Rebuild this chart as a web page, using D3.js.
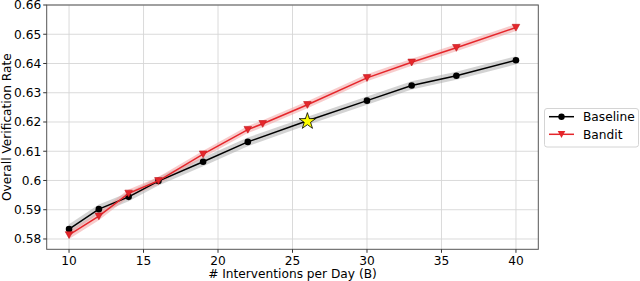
<!DOCTYPE html>
<meta charset="utf-8">
<script src="https://d3js.org/d3.v7.min.js"></script>
<div id="chart"></div>
<style>
	body { margin: 0; padding: 0; background: #fff; overflow: hidden; }
	text { font-family: "DejaVu Sans", sans-serif; fill: #000; }
</style>
<script>
	// values
	const baselineX = [10, 12, 14, 16, 19, 22, 26, 30, 33, 36, 40];
	const baselineY = [0.5834, 0.5902, 0.5944, 0.5998, 0.6064, 0.6132, 0.6204, 0.6273, 0.6325, 0.6358, 0.6411];
	const baselineErr = [0.0016, 0.0016, 0.0015, 0.0015, 0.0015, 0.0015, 0.0014, 0.0014, 0.0014, 0.0014, 0.0014];

	const banditX = [10, 12, 14, 16, 19, 22, 23, 26, 30, 33, 36, 40];
	const banditY = [0.5814, 0.5878, 0.5956, 0.5999, 0.6090, 0.6174, 0.6194, 0.6259, 0.6351, 0.6404, 0.6454, 0.6523];
	const banditErr = [0.0014, 0.0014, 0.0013, 0.0013, 0.0012, 0.0012, 0.0012, 0.0012, 0.0012, 0.0012, 0.0012, 0.0012];

	const starX = [26];
	const starY = [0.6204];

	const xTicks = [10, 15, 20, 25, 30, 35, 40];
	const yTicks = [0.58, 0.59, 0.6, 0.61, 0.62, 0.63, 0.64, 0.65, 0.66];
	const yTickLabels = ["0.58", "0.59", "0.6", "0.61", "0.62", "0.63", "0.64", "0.65", "0.66"];

	const series = [
		{ name: "Baseline", xs: baselineX, ys: baselineY, err: baselineErr, color: "#000000", band: "#a8a8a8", marker: "circle" },
		{ name: "Bandit", xs: banditX, ys: banditY, err: banditErr, color: "#e5262b", band: "#f29a9a", marker: "triangle" },
	];

	const WIDTH = 640, HEIGHT = 281;
	const L = 46.7, R = 538.3, T = 5, B = 249.3;

	const svg = d3.select("#chart").append("svg")
		.attr("width", WIDTH)
		.attr("height", HEIGHT);

	const x = d3.scaleLinear().domain([8.5, 41.5]).range([L, R]);
	const y = d3.scaleLinear().domain([0.57647, 0.66]).range([B, T]);

	// grid
	svg.append("g").selectAll("line")
		.data(xTicks)
		.join("line")
		.attr("x1", d => x(d)).attr("x2", d => x(d))
		.attr("y1", T).attr("y2", B)
		.attr("stroke", "#d6d6d6").attr("stroke-width", 0.9);
	svg.append("g").selectAll("line")
		.data(yTicks)
		.join("line")
		.attr("x1", L).attr("x2", R)
		.attr("y1", d => y(d)).attr("y2", d => y(d))
		.attr("stroke", "#d6d6d6").attr("stroke-width", 0.9);

	// bands
	for (const s of series) {
		const pts = s.xs.map((v, i) => ({ x: v, y: s.ys[i], e: s.err[i] }));
		svg.append("path")
			.datum(pts)
			.attr("d", d3.area().x(d => x(d.x)).y0(d => y(d.y - d.e)).y1(d => y(d.y + d.e)))
			.attr("fill", s.band)
			.attr("fill-opacity", 0.5);
	}

	// lines + markers
	for (const s of series) {
		const pts = s.xs.map((v, i) => ({ x: v, y: s.ys[i] }));
		svg.append("path")
			.datum(pts)
			.attr("d", d3.line().x(d => x(d.x)).y(d => y(d.y)))
			.attr("fill", "none")
			.attr("stroke", s.color)
			.attr("stroke-width", 1.5);
		const g = svg.append("g");
		if (s.marker === "circle") {
			g.selectAll("circle")
				.data(pts)
				.join("circle")
				.attr("cx", d => x(d.x)).attr("cy", d => y(d.y))
				.attr("r", 3.3)
				.attr("fill", s.color);
		} else {
			g.selectAll("path")
				.data(pts)
				.join("path")
				.attr("d", "M-3.8,-3.2L3.8,-3.2L0,3.6Z")
				.attr("transform", d => `translate(${x(d.x)},${y(d.y)})`)
				.attr("fill", s.color)
				.attr("stroke", "#c01a1e")
				.attr("stroke-width", 0.6);
		}
	}

	// star
	svg.append("g").selectAll("path")
		.data(starX.map((v, i) => ({ x: v, y: starY[i] })))
		.join("path")
		.attr("d", d3.symbol(d3.symbolStar, 85))
		.attr("transform", d => `translate(${x(d.x)},${y(d.y) + 0.5})`)
		.attr("fill", "#ffff00")
		.attr("stroke", "#000")
		.attr("stroke-width", 0.8);

	// spines
	svg.append("rect")
		.attr("x", L).attr("y", T)
		.attr("width", R - L).attr("height", B - T)
		.attr("fill", "none").attr("stroke", "#555").attr("stroke-width", 1);

	// axes ticks
	const fs = 12.2;
	svg.append("g").selectAll("line")
		.data(xTicks).join("line")
		.attr("x1", d => x(d)).attr("x2", d => x(d))
		.attr("y1", B).attr("y2", B + 3.5)
		.attr("stroke", "#333");
	svg.append("g").selectAll("text")
		.data(xTicks).join("text")
		.attr("x", d => x(d)).attr("y", B + 15.5)
		.attr("text-anchor", "middle")
		.style("font-size", fs + "px")
		.text(d => d);

	svg.append("g").selectAll("line")
		.data(yTicks).join("line")
		.attr("x1", L - 3.5).attr("x2", L)
		.attr("y1", d => y(d)).attr("y2", d => y(d))
		.attr("stroke", "#333");
	svg.append("g").selectAll("text")
		.data(yTicks).join("text")
		.attr("x", L - 5.5).attr("y", d => y(d))
		.attr("dy", "0.36em")
		.attr("text-anchor", "end")
		.style("font-size", fs + "px")
		.text((d, i) => yTickLabels[i]);

	svg.append("text")
		.attr("x", (L + R) / 2).attr("y", 277.5)
		.attr("text-anchor", "middle")
		.style("font-size", fs + "px")
		.text("# Interventions per Day (B)");

	svg.append("text")
		.attr("transform", `translate(6.5,${(T + B) / 2}) rotate(-90)`)
		.attr("text-anchor", "middle")
		.attr("dy", "0.35em")
		.style("font-size", fs + "px")
		.text("Overall Verification Rate");

	// legend
	const lg = svg.append("g");
	lg.append("rect")
		.attr("x", 544.5).attr("y", 108.5)
		.attr("width", 94).attr("height", 38.5)
		.attr("rx", 2.5)
		.attr("fill", "#fff").attr("stroke", "#d4d4d4");
	series.forEach((s, i) => {
		const ly = 116.7 + i * 17.6;
		lg.append("line")
			.attr("x1", 549).attr("x2", 574)
			.attr("y1", ly).attr("y2", ly)
			.attr("stroke", s.color).attr("stroke-width", 1.5);
		if (s.marker === "circle") {
			lg.append("circle").attr("cx", 561.5).attr("cy", ly).attr("r", 3.2).attr("fill", s.color);
		} else {
			lg.append("path")
				.attr("d", "M-3.8,-3.2L3.8,-3.2L0,3.6Z")
				.attr("transform", `translate(561.5,${ly})`)
				.attr("fill", s.color);
		}
		lg.append("text")
			.attr("x", 583).attr("y", ly)
			.attr("dy", "0.36em")
			.style("font-size", fs + "px")
			.text(s.name);
	});
</script>
